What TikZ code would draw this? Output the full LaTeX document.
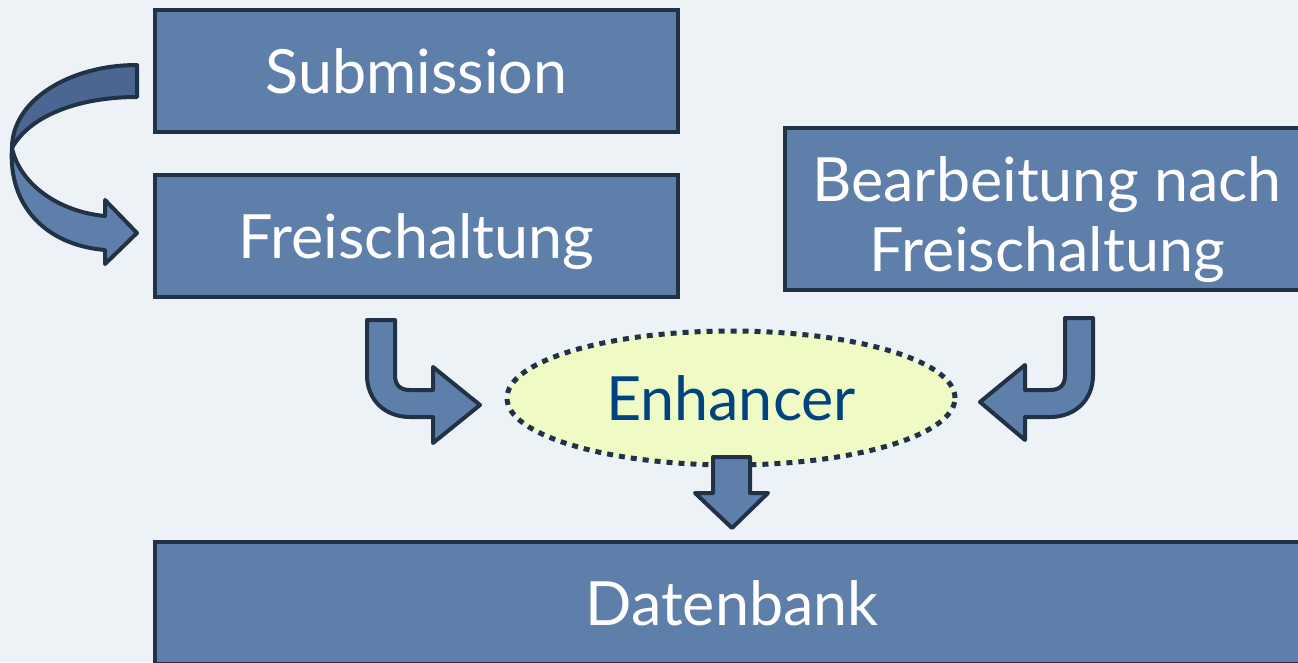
\documentclass[tikz,border=0pt]{standalone}
\usepackage{fontspec}
\setmainfont{Lato}
\usetikzlibrary{shapes.geometric}
\definecolor{bg}{HTML}{EDF2F7}
\definecolor{boxfill}{HTML}{5F7FAB}
\definecolor{boxdark}{HTML}{4B6690}
\definecolor{edge}{HTML}{223246}
\definecolor{ellfill}{HTML}{EFFAC5}
\definecolor{enhtext}{HTML}{00437E}
\tikzset{
  bigtext/.style={font=\fontsize{61}{70}\selectfont},
  stagebox/.style={draw=edge, line width=4pt, fill=boxfill, text=white,
    inner sep=0pt, align=center, bigtext,
    text height=44pt, text depth=0pt},
  stagelabel/.style={text=white, inner sep=0pt, align=center, bigtext},
  blockarrow/.style={draw=edge, line width=4pt, fill=boxfill, line join=round},
  enhancer/.style={ellipse, draw=edge, line width=5pt, fill=ellfill,
    dash pattern=on 6pt off 6pt, text=enhtext, inner sep=0pt, bigtext,
    text height=44pt, text depth=0pt}
}
\begin{document}
\begin{tikzpicture}[x=1pt, y=-1pt]
  \useasboundingbox (0,0) rectangle (1298,662);
  \clip (0,0) rectangle (1298,662);
  \fill[bg] (0,0) rectangle (1298,662);

  % process stages
  \node[stagebox, minimum width=523pt, minimum height=122pt] (sub) at (416.5,71) {Submission};
  \node[stagebox, minimum width=523pt, minimum height=122pt] (frei) at (416.5,236) {Freischaltung};
  \node[stagebox, minimum width=1154pt, minimum height=122pt] (db) at (732,603) {Datenbank};
  \node[draw=edge, line width=4pt, fill=boxfill, minimum width=525pt, minimum height=162pt] (bearb) at (1047.5,209) {};
  \node[stagelabel] (bearbtext) at (1047,220) {Bearbeitung nach\\Freischaltung};

  % enhancer
  \node[enhancer, minimum width=448pt, minimum height=134pt] (enh) at (731,398) {Enhancer};

  % curved arrow from Submission to Freischaltung
  \fill[boxdark, draw=edge, line width=4pt, line join=round]
    (137,65) .. controls (70,65) and (12,100) .. (12,148)
    .. controls (30,115) and (80,97) .. (137,97) -- cycle;
  \path[blockarrow]
    (12,148) .. controls (20,185) and (60,212) .. (105,216)
    -- (105,200) -- (137,233) -- (105,264) -- (105,250)
    .. controls (45,245) and (8,205) .. (12,148) -- cycle;

  % bent arrow from Freischaltung to the enhancer
  \path[blockarrow]
    (367,320) -- (395,320) -- (395,375)
    .. controls (395,385) and (400,390) .. (410,390)
    -- (433,390) -- (433,367) -- (480,405) -- (433,443) -- (433,417)
    -- (410,417) .. controls (385,417) and (367,400) .. (367,375) -- cycle;

  % bent arrow from the edited entries to the enhancer
  \path[blockarrow]
    (1093,318) -- (1065,318) -- (1065,375)
    .. controls (1065,385) and (1060,390) .. (1050,390)
    -- (1025,390) -- (1025,365) -- (980,402) -- (1025,440) -- (1025,417)
    -- (1050,417) .. controls (1075,417) and (1093,400) .. (1093,375) -- cycle;

  % arrow from the enhancer down to the database
  \path[blockarrow]
    (713,457) -- (750,457) -- (750,493) -- (768,493) -- (732,528)
    -- (695,493) -- (713,493) -- cycle;
\end{tikzpicture}
\end{document}
